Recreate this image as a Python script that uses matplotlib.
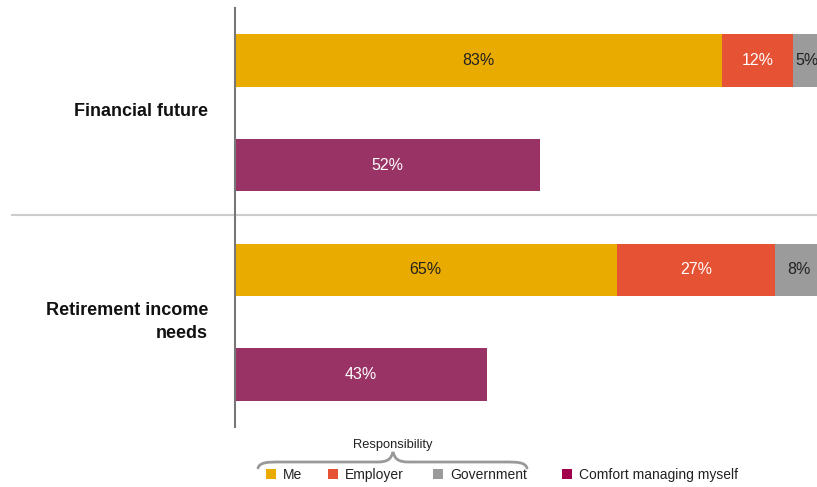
import matplotlib
matplotlib.use("Agg")
import matplotlib.pyplot as plt
from matplotlib.path import Path
from matplotlib.patches import PathPatch, Rectangle

plt.rcParams['font.family'] = ['Liberation Sans', 'DejaVu Sans']

# Data
groups = ["Financial future", "Retirement income\nneeds"]
me = [83, 65]
employer = [12, 27]
government = [5, 8]
comfort = [52, 43]

c_me = "#EAAB00"
c_emp = "#E55234"
c_gov = "#9B9B9B"
c_comfort = "#993366"
c_comfort_leg = "#A0004C"

W, H = 817, 487
fig = plt.figure(figsize=(W / 100, H / 100), dpi=100)

# Background overlay in pixel coordinates (separator line, group labels)
bg = fig.add_axes([0, 0, 1, 1], zorder=0)
bg.set_xlim(0, W)
bg.set_ylim(H, 0)
bg.axis("off")
bg.plot([11, W], [215, 215], color="#CCCCCC", lw=1.5, solid_capstyle="butt")

label_y = [111, 322]
for lab, yy in zip(groups, label_y):
    bg.text(208, yy, lab, ha="right", va="center", fontsize=13,
            fontweight="bold", color="#111111", multialignment="right", linespacing=1.4)

# Main bar axes (scaled so that 100% extends just past the right edge)
left_px, right_px, top_px, bot_px = 235, 822, 8, 427
ax = fig.add_axes([left_px / W, 1 - bot_px / H, (right_px - left_px) / W, (bot_px - top_px) / H],
                  zorder=1)
ax.patch.set_alpha(0)
ax.set_xlim(0, 100)
ax.set_ylim(3.5, -0.5)

bh = 0.5
for i in range(len(groups)):
    y_stack = 2 * i
    y_comf = 2 * i + 1
    segs = [(me[i], c_me, "#222222"), (employer[i], c_emp, "white"), (government[i], c_gov, "#222222")]
    start = 0
    for val, col, tcol in segs:
        ax.barh(y_stack, val, left=start, height=bh, color=col, edgecolor="none")
        ax.text(start + val / 2, y_stack, f"{val}%", ha="center", va="center",
                color=tcol, fontsize=11.5)
        start += val
    ax.barh(y_comf, comfort[i], left=0, height=bh, color=c_comfort, edgecolor="none")
    ax.text(comfort[i] / 2, y_comf, f"{comfort[i]}%", ha="center", va="center",
            color="white", fontsize=11.5)

for s in ["top", "right", "bottom"]:
    ax.spines[s].set_visible(False)
ax.spines["left"].set_color("#777777")
ax.spines["left"].set_linewidth(1.5)
ax.set_xticks([])
ax.set_yticks([])

# Legend with brace grouping the responsibility items
ov = fig.add_axes([0, 0, 1, 1], zorder=5)
ov.set_xlim(0, W)
ov.set_ylim(H, 0)
ov.axis("off")
ov.patch.set_alpha(0)

ov.text(393, 448, "Responsibility", ha="center", va="baseline", fontsize=9.3, color="#222222")
verts = [(258, 468), (260, 462), (268, 462), (280, 462), (377, 462),
         (388, 462), (391, 459), (393, 452),
         (395, 459), (398, 462), (409, 462), (505, 462),
         (517, 462), (525, 462), (527, 468)]
codes = [Path.MOVETO, Path.CURVE4, Path.CURVE4, Path.CURVE4, Path.LINETO,
         Path.CURVE4, Path.CURVE4, Path.CURVE4,
         Path.CURVE4, Path.CURVE4, Path.CURVE4, Path.LINETO,
         Path.CURVE4, Path.CURVE4, Path.CURVE4]
ov.add_patch(PathPatch(Path(verts, codes), fill=False, edgecolor="#999999", lw=2, capstyle="round"))

legend_items = [("Me", c_me, 266), ("Employer", c_emp, 328),
                ("Government", c_gov, 433), ("Comfort managing myself", c_comfort_leg, 562)]
for name, col, x in legend_items:
    ov.add_patch(Rectangle((x, 469), 10, 10, facecolor=col, edgecolor="none"))
    ov.text(x + 17, 479, name, ha="left", va="baseline", fontsize=10, color="#222222")

fig.savefig("out.png", dpi=100)
